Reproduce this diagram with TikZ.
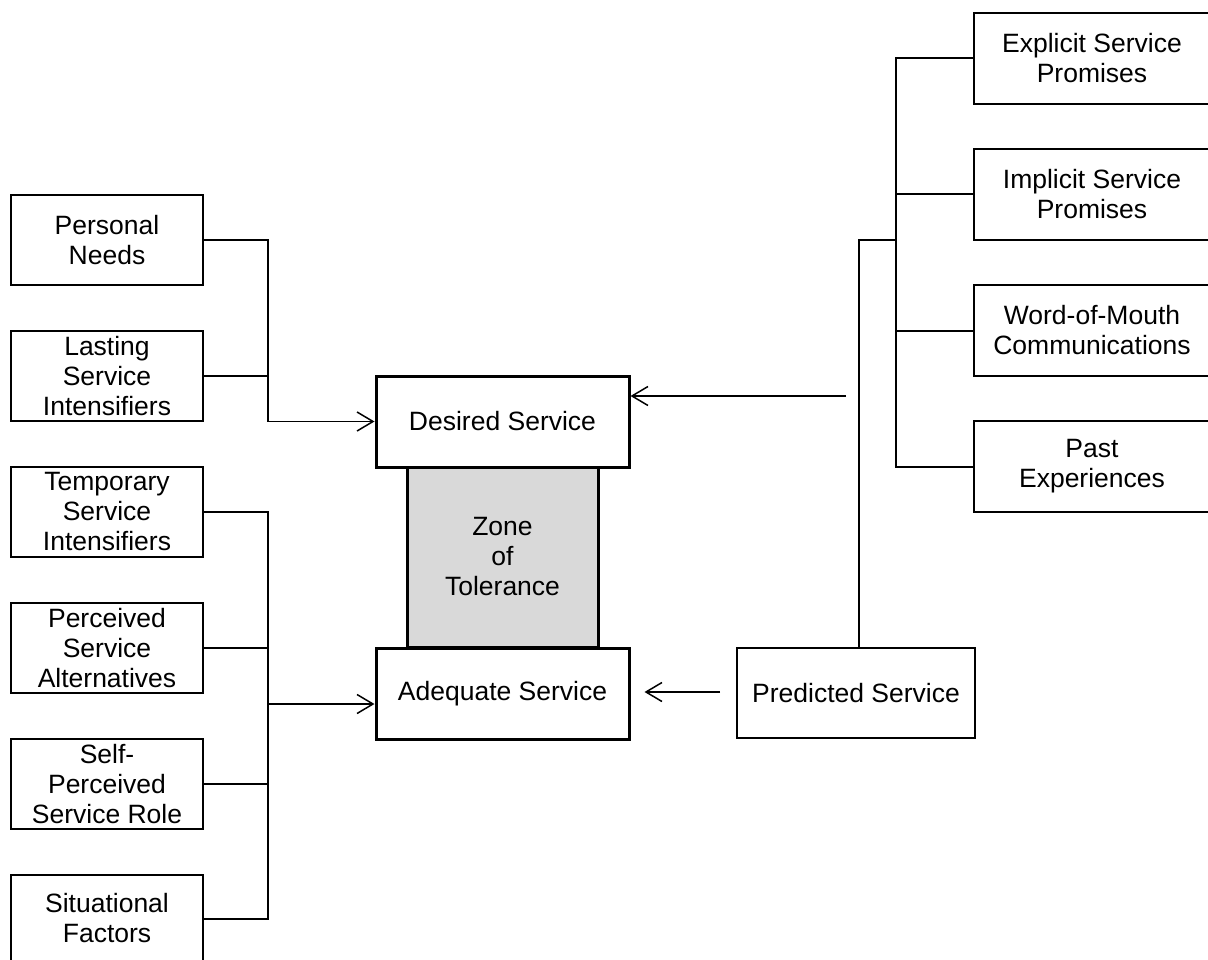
\documentclass[tikz,border=0pt]{standalone}
\usepackage{fontspec}
\setmainfont{Liberation Sans}
\usetikzlibrary{arrows.meta,calc}
\definecolor{zonegray}{HTML}{D9D9D9}
\begin{document}
\begin{tikzpicture}[x=1pt,y=-1pt,
  every node/.style={font=\fontsize{26.5}{30}\selectfont, align=center, inner sep=0pt},
  smallbox/.style={draw, line width=2pt, minimum width=192pt, minimum height=90pt},
  rightbox/.style={draw, line width=2pt, minimum width=236pt, minimum height=91pt},
  mainbox/.style={draw, line width=3pt, minimum width=253pt, minimum height=91pt},
  zonebox/.style={draw, line width=3pt, fill=zonegray, minimum width=191pt, minimum height=180pt},
  conn/.style={line width=2pt},
  arr/.style={line width=1.5pt, -{Straight Barb[length=16pt,width=19pt,line width=1.5pt]}}
]
\useasboundingbox (0,0) rectangle (1208,960);

% left boxes
\node[smallbox] (pn)  at (107,240) {Personal\\Needs};
\node[smallbox] (lsi) at (107,376) {Lasting\\Service\\Intensifiers};
\node[smallbox] (tsi) at (107,512) {Temporary\\Service\\Intensifiers};
\node[smallbox] (psa) at (107,648) {Perceived\\Service\\Alternatives};
\node[smallbox] (spr) at (107,784) {Self-\\Perceived\\Service Role};
\node[smallbox, minimum height=87pt] (sf) at (107,918.5) {Situational\\Factors};

% central
\node[zonebox] (zt) at (502.5,557) {Zone\\of\\Tolerance};
\node[mainbox] (ds) at (502.5,421.5) {Desired Service};
\node[mainbox] (as) at (502.5,693.5) {Adequate Service};
\node[draw, line width=2pt, minimum width=238pt, minimum height=90pt] (ps) at (856,693) {Predicted Service};

% right boxes
\node[rightbox] (esp) at (1092,58.5)  {Explicit Service\\Promises};
\node[rightbox] (isp) at (1092,194.5) {Implicit Service\\Promises};
\node[rightbox] (wom) at (1092,330.5) {Word-of-Mouth\\Communications};
\node[rightbox] (pe)  at (1092,466.5) {Past\\Experiences};

% left connectors (desired)
\coordinate (jl1) at (268,421.5);
\draw[conn] (pn.east) -| (jl1);
\draw[conn] (lsi.east) -- (lsi.east -| jl1);
\draw[arr] (jl1) -- (ds.west);

% left connectors (adequate)
\coordinate (jl2) at (268,704);
\draw[conn] (tsi.east) -| (jl2 |- sf.east) -- (sf.east);
\draw[conn] (psa.east) -- (psa.east -| jl2);
\draw[conn] (spr.east) -- (spr.east -| jl2);
\draw[arr] (jl2) -- (jl2 -| as.west);

% right tree
\coordinate (jr) at (896,240);
\coordinate (jc) at (859,240);
\draw[conn] (esp.west) -| (jr |- pe.west) -- (pe.west);
\draw[conn] (isp.west) -- (isp.west -| jr);
\draw[conn] (wom.west) -- (wom.west -| jr);
\draw[conn] (jr) -- (jc) -- (jc |- ps.north);

% arrows into central boxes
\coordinate (a1) at (846,396);
\draw[arr] (a1) -- (a1 -| ds.east);
\coordinate (a2) at (720,692);
\draw[arr] (a2) -- ($(a2 -| as.east)+(14,0)$);
\end{tikzpicture}
\end{document}
